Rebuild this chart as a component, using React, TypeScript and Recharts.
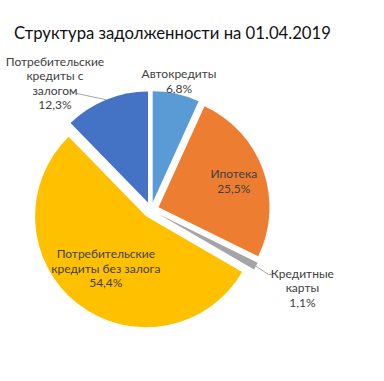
import { PieChart, Pie, Cell } from "recharts";

const categories = [
  "Автокредиты",
  "Ипотека",
  "Кредитные карты",
  "Потребительские кредиты без залога",
  "Потребительские кредиты с залогом",
];
const shares = [6.8, 25.5, 1.1, 54.4, 12.3];
const labelLines = [
  ["Автокредиты"],
  ["Ипотека"],
  ["Кредитные", "карты"],
  ["Потребительские", "кредиты без залога"],
  ["Потребительские", "кредиты с", "залогом"],
];
const colors = ["#5B9BD5", "#ED7D31", "#A5A5A5", "#FFC000", "#4472C4"];

const data = categories.map((name, i) => ({ name, value: shares[i] }));

const CX = 151;
const CY = 210;
const R = 111;
const EXPLODE = 8;
const RAD = Math.PI / 180;
const FONT = "Lato, 'Open Sans', sans-serif";

// mid angle of each slice (recharts convention, start at 12 o'clock, clockwise)
const total = shares.reduce((a, b) => a + b, 0);
const midAngles = shares.map((v, i) => {
  const before = shares.slice(0, i).reduce((a, b) => a + b, 0);
  return 90 - ((before + v / 2) / total) * 360;
});

// label placement: radius factor, angle tweak, optional leader points relative to text centre
const labelLayout: { r: number; shift: number; leader?: number[][] }[] = [
  { r: 1.12, shift: 0 },
  { r: 0.72, shift: 0 },
  { r: 1.46, shift: 1.1, leader: [[-34, -13], [-29, -13]] },
  { r: 0.59, shift: 0 },
  { r: 1.37, shift: 15.6, leader: [[21, 11]] },
];

const polar = (cx: number, cy: number, r: number, angle: number) => ({
  x: cx + r * Math.cos(-angle * RAD),
  y: cy + r * Math.sin(-angle * RAD),
});

const fmt = (v: number) => v.toFixed(1).replace(".", ",") + "%";

function makeLabel(idx: number) {
  return (props: any) => {
    if (props.index !== idx) return null;
    const { cx, cy, midAngle, outerRadius } = props;
    const lay = labelLayout[idx];
    const c = polar(cx, cy, outerRadius * lay.r, midAngle + lay.shift);
    const lines = [...labelLines[idx], fmt(shares[idx])];
    const lh = 14.5;
    const y0 = c.y - ((lines.length - 1) * lh) / 2;
    let leader = null;
    if (lay.leader) {
      const a = polar(cx, cy, outerRadius, midAngle);
      const pts = [a, ...lay.leader.map(([dx, dy]) => ({ x: c.x + dx, y: c.y + dy }))];
      leader = (
        <polyline
          points={pts.map((p) => `${p.x},${p.y}`).join(" ")}
          fill="none"
          stroke="#A6A6A6"
          strokeWidth={1}
        />
      );
    }
    return (
      <g>
        {leader}
        <text
          x={c.x}
          y={y0}
          fill="#404040"
          fontSize={12}
          fontFamily={FONT}
          textAnchor="middle"
          dominantBaseline="central"
        >
          {lines.map((t, k) => (
            <tspan key={k} x={c.x} y={y0 + k * lh}>
              {t}
            </tspan>
          ))}
        </text>
      </g>
    );
  };
}

export default function App() {
  return (
    <div style={{ position: "absolute", left: 0, top: 0, width: 384, height: 381, background: "#fff" }}>
      <div
        style={{
          position: "absolute",
          left: 14,
          top: 23,
          fontFamily: FONT,
          fontSize: 16.7,
          lineHeight: "20px",
          color: "#111",
          whiteSpace: "nowrap",
        }}
      >
        Структура задолженности на 01.04.2019
      </div>
      <PieChart width={384} height={381} margin={{ top: 0, right: 0, bottom: 0, left: 0 }}>
        {categories.map((_, i) => {
          const off = polar(CX, CY, EXPLODE, midAngles[i]);
          return (
            <Pie
              key={i}
              data={data}
              dataKey="value"
              nameKey="name"
              cx={off.x}
              cy={off.y}
              outerRadius={R}
              startAngle={90}
              endAngle={-270}
              isAnimationActive={false}
              labelLine={false}
              label={makeLabel(i)}
            >
              {data.map((_, j) => (
                <Cell
                  key={j}
                  fill={j === i ? colors[j] : "transparent"}
                  stroke="none"
                />
              ))}
            </Pie>
          );
        })}
      </PieChart>
    </div>
  );
}
